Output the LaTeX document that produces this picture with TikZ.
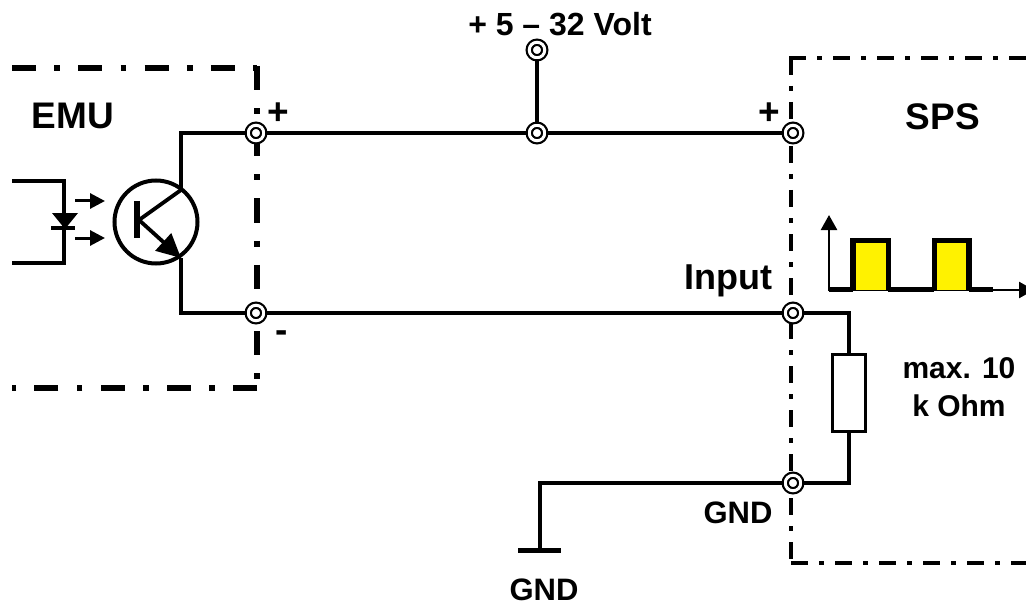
\documentclass[tikz,border=0pt]{standalone}
\usepackage{fontspec}
\setmainfont{Liberation Sans}
\usetikzlibrary{arrows.meta}
\tikzset{
	wire/.style={line width=3.8pt},
	term/.style={circle,draw,fill=white,line width=2.2pt,double,double distance=3pt,inner sep=0pt,minimum size=15.5pt},
	termdot/.style={term,path picture={\fill (path picture bounding box.center) circle (2pt);}},
	emubox/.style={line width=6pt,dash pattern=on 24pt off 18.25pt on 5.75pt off 18.25pt},
	spsbox/.style={line width=4.3pt,dash pattern=on 17pt off 11pt on 5pt off 11pt},
	lab/.style={font=\bfseries\fontsize{31pt}{38pt}\selectfont,inner sep=0pt,align=center},
	biglab/.style={font=\bfseries\fontsize{37pt}{40pt}\selectfont,inner sep=0pt},
	axistip/.style={-{Triangle[length=15pt,width=16pt]}}
}
\begin{document}
\begin{tikzpicture}[x=1pt,y=-1pt]
	\useasboundingbox (0,0) rectangle (1026,607);
	
	% boxes
	\draw [emubox] (12,68) -- (257,68);
	\draw [emubox] (257,66) -- (257,382);
	\draw [emubox] (257,388) -- (12,388);
	\draw [spsbox] (789,58) -- (1026,58);
	\draw [spsbox] (791,58) -- (791,559);
	\draw [spsbox] (791,563) -- (1026,563);
	
	% terminals
	\node [termdot] (supply) at (537,50) {};
	\node [termdot] (emuplus) at (256,133) {};
	\node [termdot] (mid) at (537,133) {};
	\node [termdot] (spsplus) at (793,133) {};
	\node [termdot] (emuminus) at (256,313) {};
	\node [term] (input) at (793,313) {};
	\node [termdot] (spsgnd) at (793,483) {};
	
	% transistor
	\node [circle,draw,line width=4pt,minimum size=83pt,inner sep=0pt] (trans) at (156,222) {};
	\coordinate (coll) at (181,190);
	\coordinate (emit) at (181,258);
	\coordinate (base) at (139,220);
	\draw [line width=6pt] (137,201) -- (137,238);
	\draw [wire] (base) -- (coll);
	\draw [wire,-{Triangle[length=24pt,width=23pt]}] (base) -- (emit);
	
	% wires
	\draw [wire] (coll) -- (181,133) -- (emuplus);
	\draw [wire] (emit) -- (181,313) -- (emuminus);
	\draw [wire] (emuplus) -- (mid);
	\draw [wire] (mid) -- (spsplus);
	\draw [wire] (supply) -- (mid);
	\draw [wire] (emuminus) -- (input);
	
	% diode
	\coordinate (ledtop) at (12,181);
	\coordinate (ledbot) at (12,263);
	\draw [wire] (ledtop) -- (64,181) -- (64,263) -- (ledbot);
	\fill (52,213) -- (78,213) -- (65,229) -- cycle;
	\draw [line width=4pt] (51,228) -- (75,228);
	\draw [line width=3pt,-{Triangle[length=15pt,width=15pt]}] (75,201) -- (105,201);
	\draw [line width=3pt,-{Triangle[length=15pt,width=15pt]}] (75,238) -- (105,238);
	
	% resistor
	\node [draw,line width=3.8pt,minimum width=33pt,minimum height=77pt,inner sep=0pt] (res) at (849,393) {};
	\draw [wire] (input) -- (849,313) -- (res.north);
	\draw [wire] (res.south) -- (849,483) -- (spsgnd);
	
	% ground
	\coordinate (gndtop) at (540,550);
	\draw [wire] (spsgnd) -- (540,483) -- (gndtop);
	\draw [line width=5pt] (518,550) -- (561,550);
	
	% pulses
	\draw [line width=2.5pt,axistip] (829,291) -- (829,215);
	\draw [line width=2.5pt,axistip] (829,290) -- (1034,290);
	\draw [line width=5pt] (829,289.5) -- (853,289.5);
	\draw [line width=5pt] (888,289.5) -- (934,289.5);
	\draw [line width=5pt] (969,289.5) -- (993,289.5);
	\draw [line width=5.5pt,fill=yellow] (853,290) -- (853,240.5) -- (888.5,240.5) -- (888.5,290);
	\draw [line width=5.5pt,fill=yellow] (934.5,290) -- (934.5,240.5) -- (969,240.5) -- (969,290);
	
	% labels
	\node [font=\bfseries\fontsize{32pt}{36pt}\selectfont,inner sep=0pt] at (560,24) {+ 5 – 32 Volt};
	\node [biglab] at (73,116) {EMU};
	\node [biglab] at (943,117) {SPS};
	\node [biglab] at (278,114) {+};
	\node [biglab] at (769,114) {+};
	\node [biglab] at (282,337) {-};
	\node [font=\bfseries\fontsize{36pt}{40pt}\selectfont,inner sep=0pt] at (728,281) {Input};
	\node [font=\bfseries\fontsize{30pt}{38pt}\selectfont,inner sep=0pt,align=center] at (959,387) {max. 10\\ k Ohm};
	\node [lab] at (738,513) {GND};
	\node [lab] at (544,590) {GND};
\end{tikzpicture}
\end{document}
